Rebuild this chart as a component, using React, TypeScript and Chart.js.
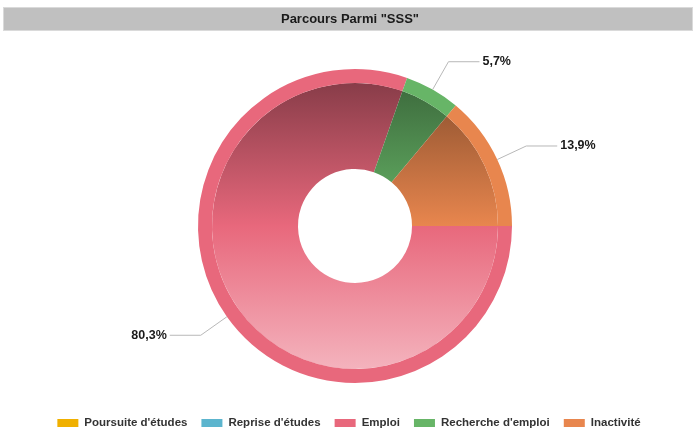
import React, { useEffect, useRef } from 'react';
import { Chart, registerables } from 'chart.js';

Chart.register(...registerables);

const categories = ["Poursuite d'études", "Reprise d'études", 'Emploi', "Recherche d'emploi", 'Inactivité'];
const values = [0, 0, 80.3, 5.7, 13.9];
const colors = ['#F0B000', '#5CB5CE', '#E8687C', '#67B567', '#E8864E'];
const titleText = 'Parcours Parmi "SSS"';

function hexToRgb(h: string) {
  const n = parseInt(h.slice(1), 16);
  return [(n >> 16) & 255, (n >> 8) & 255, n & 255];
}
function shade(h: string, f: number) {
  const [r, g, b] = hexToRgb(h);
  return `rgb(${Math.round(r * f)},${Math.round(g * f)},${Math.round(b * f)})`;
}
function tint(h: string, f: number) {
  const [r, g, b] = hexToRgb(h);
  return `rgb(${Math.round(r + (255 - r) * f)},${Math.round(g + (255 - g) * f)},${Math.round(b + (255 - b) * f)})`;
}

const fmt = (v: number) => v.toFixed(1).replace('.', ',') + '%';

const titlePlugin = {
  id: 'titleBar',
  beforeDraw(chart: any) {
    const ctx = chart.ctx;
    ctx.save();
    ctx.fillStyle = '#C0C0C0';
    ctx.fillRect(3, 7, 690, 24);
    ctx.strokeStyle = '#DADADA';
    ctx.lineWidth = 1;
    ctx.strokeRect(3.5, 7.5, 689, 23);
    ctx.fillStyle = '#1a1a1a';
    ctx.font = 'bold 13px "Liberation Sans", Arial, sans-serif';
    ctx.textAlign = 'center';
    ctx.textBaseline = 'middle';
    ctx.fillText(titleText, 350, 19.5);
    ctx.restore();
  },
};

const legendPlugin = {
  id: 'customLegend',
  afterDraw(chart: any) {
    const ctx = chart.ctx;
    ctx.save();
    ctx.font = 'bold 11.5px "Liberation Sans", Arial, sans-serif';
    const widths = categories.map((c) => ctx.measureText(c).width);
    const boxW = 21;
    const boxGap = 6;
    const itemGap = 14;
    const total = widths.reduce((s, w) => s + boxW + boxGap + w, 0) + itemGap * (categories.length - 1);
    let x = 349 - total / 2;
    const cy = 423;
    ctx.textBaseline = 'middle';
    ctx.textAlign = 'left';
    categories.forEach((c, i) => {
      ctx.fillStyle = colors[i];
      ctx.fillRect(x, cy - 4, boxW, 8);
      ctx.fillStyle = '#333333';
      ctx.fillText(c, x + boxW + boxGap, cy);
      x += boxW + boxGap + widths[i] + itemGap;
    });
    ctx.restore();
  },
};

const labelPlugin = {
  id: 'pieLabels',
  afterDatasetsDraw(chart: any) {
    const ctx = chart.ctx;
    const meta = chart.getDatasetMeta(0);
    ctx.save();
    ctx.font = 'bold 12.5px "Liberation Sans", Arial, sans-serif';
    ctx.textBaseline = 'middle';
    meta.data.forEach((arc: any, i: number) => {
      const v = values[i];
      if (!v) return;
      const { x, y, startAngle, endAngle, outerRadius } = arc.getProps(['x', 'y', 'startAngle', 'endAngle', 'outerRadius'], true);
      const a = (startAngle + endAngle) / 2;
      const cos = Math.cos(a);
      const sin = Math.sin(a);
      const p0x = x + outerRadius * cos;
      const p0y = y + outerRadius * sin;
      const p1x = x + (outerRadius + 32) * cos;
      const p1y = y + (outerRadius + 32) * sin;
      const dir = cos >= 0 ? 1 : -1;
      const p2x = p1x + dir * 31;
      ctx.strokeStyle = '#B8B8B8';
      ctx.lineWidth = 1;
      ctx.beginPath();
      ctx.moveTo(p0x, p0y);
      ctx.lineTo(p1x, p1y);
      ctx.lineTo(p2x, p1y);
      ctx.stroke();
      ctx.fillStyle = '#1a1a1a';
      ctx.textAlign = dir > 0 ? 'left' : 'right';
      ctx.fillText(fmt(v), p2x + dir * 3, p1y);
    });
    ctx.restore();
  },
};

export default function App() {
  const ref = useRef<HTMLCanvasElement | null>(null);
  useEffect(() => {
    document.body.style.margin = '0';
    const canvas = ref.current;
    if (!canvas) return;
    const gradientBg = (ctx: any) => {
      const base = colors[ctx.dataIndex] || colors[0];
      const chart = ctx.chart;
      const area = chart.chartArea;
      if (!area) return base;
      const cy = (area.top + area.bottom) / 2;
      const r = 145;
      const g = chart.ctx.createLinearGradient(0, cy - r, 0, cy + r);
      g.addColorStop(0, shade(base, 0.58));
      g.addColorStop(0.5, base);
      g.addColorStop(1, tint(base, 0.5));
      return g;
    };
    const chart = new Chart(canvas, {
      type: 'doughnut',
      data: {
        labels: categories,
        datasets: [
          {
            data: values,
            backgroundColor: colors,
            borderWidth: 0,
            hoverOffset: 0,
            weight: 14,
          },
          {
            data: values,
            backgroundColor: gradientBg as any,
            borderWidth: 0,
            hoverOffset: 0,
            weight: 86,
          },
        ],
      },
      options: {
        responsive: false,
        animation: false,
        events: [],
        rotation: 90,
        cutout: 57,
        layout: { padding: { top: 69, bottom: 53, left: 14, right: 0 } },
        plugins: {
          legend: { display: false },
          title: { display: false },
          tooltip: { enabled: false },
        },
      },
      plugins: [titlePlugin, labelPlugin, legendPlugin],
    });
    return () => chart.destroy();
  }, []);
  return (
    <div style={{ position: 'absolute', left: 0, top: 0, width: 696, height: 436 }}>
      <canvas ref={ref} width={696} height={436} />
    </div>
  );
}
